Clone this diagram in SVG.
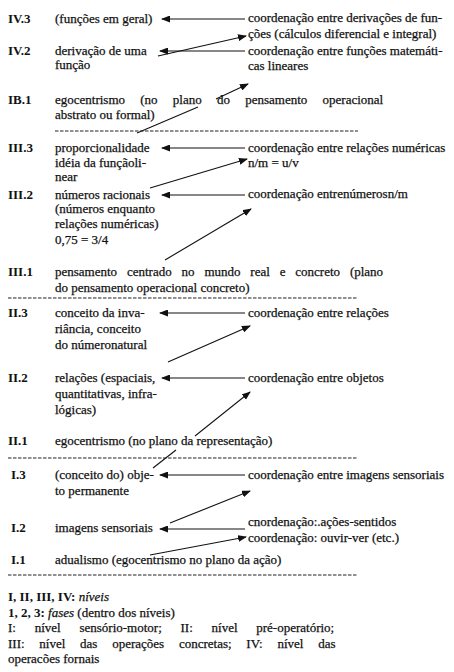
<svg xmlns="http://www.w3.org/2000/svg" width="454" height="672" viewBox="0 0 454 672">
<style>
text{font-family:"Liberation Serif","Times New Roman",serif;font-size:13px;fill:#111;stroke:#111;stroke-width:0.25}
.lb{font-weight:bold;stroke-width:0}
.it{font-style:italic}
.c line{stroke:#111;stroke-width:1.1}
.d{stroke:#222;stroke-width:1.2;stroke-dasharray:3.5 1.5}
</style>
<defs>
<marker id="ah" markerUnits="userSpaceOnUse" markerWidth="9" markerHeight="7" refX="8" refY="3.5" orient="auto">
<path d="M0,0 L9,3.5 L0,7 z" fill="#111"/>
</marker>
</defs>
<rect width="454" height="672" fill="#fff"/>

<g id="connectors" class="c">
<line x1="245" y1="19" x2="162" y2="19" marker-end="url(#ah)"/>
<line x1="158" y1="56" x2="246" y2="36" marker-end="url(#ah)"/>
<line x1="245" y1="51" x2="160" y2="51" marker-end="url(#ah)"/>
<line x1="137" y1="133" x2="198" y2="107"/>
<line x1="216" y1="99" x2="248" y2="84" marker-end="url(#ah)"/>
<line x1="245" y1="148" x2="162" y2="148" marker-end="url(#ah)"/>
<line x1="150" y1="188" x2="247" y2="159" marker-end="url(#ah)"/>
<line x1="245" y1="195" x2="162" y2="195" marker-end="url(#ah)"/>
<line x1="165" y1="260" x2="251" y2="209" marker-end="url(#ah)"/>
<line x1="245" y1="313" x2="160" y2="313" marker-end="url(#ah)"/>
<line x1="168" y1="362" x2="250" y2="326" marker-end="url(#ah)"/>
<line x1="245" y1="378" x2="162" y2="378" marker-end="url(#ah)"/>
<line x1="153" y1="468" x2="176" y2="450"/>
<line x1="195" y1="436" x2="250" y2="392" marker-end="url(#ah)"/>
<line x1="245" y1="475" x2="160" y2="475" marker-end="url(#ah)"/>
<line x1="170" y1="523" x2="250" y2="491" marker-end="url(#ah)"/>
<line x1="245" y1="529" x2="160" y2="529" marker-end="url(#ah)"/>
<line x1="150" y1="555" x2="246" y2="537" marker-end="url(#ah)"/>
</g>

<g id="separators">
<line class="d" x1="55" y1="131" x2="358" y2="131"/>
<line class="d" x1="8" y1="298" x2="358" y2="298"/>
<line class="d" x1="8" y1="458" x2="358" y2="458"/>
<line class="d" x1="8" y1="575" x2="358" y2="575"/>
</g>

<g id="IV3">
<text class="lb" x="8" y="23">IV.3</text>
<text x="55" y="23">(funções em geral)</text>
</g>
<g id="IV3-coord">
<text x="248" y="22">coordenação entre derivações de fun-</text>
<text x="248" y="38">ções (cálculos diferencial e integral)</text>
</g>
<g id="IV2">
<text class="lb" x="8" y="55">IV.2</text>
<text x="55" y="55">derivação de uma</text>
<text x="55" y="69">função</text>
</g>
<g id="IV2-coord">
<text x="248" y="55">coordenação entre funções matemáti-</text>
<text x="248" y="70">cas lineares</text>
</g>
<g id="IB1">
<text class="lb" x="8" y="104">IB.1</text>
<text x="55" y="104" word-spacing="12">egocentrismo (no plano do pensamento operacional</text>
<text x="55" y="119">abstrato ou formal)</text>
</g>
<g id="III3">
<text class="lb" x="8" y="152">III.3</text>
<text x="55" y="152">proporcionalidade</text>
<text x="55" y="167">idéia da funçãoli-</text>
<text x="55" y="181">near</text>
</g>
<g id="III3-coord">
<text x="248" y="152">coordenação entre relações numéricas</text>
<text x="248" y="167">n/m = u/v</text>
</g>
<g id="III2">
<text class="lb" x="8" y="199">III.2</text>
<text x="55" y="199">números racionais</text>
<text x="55" y="213">(números enquanto</text>
<text x="55" y="228">relações numéricas)</text>
<text x="55" y="244">0,75 = 3/4</text>
</g>
<g id="III2-coord">
<text x="248" y="198">coordenação entrenúmerosn/m</text>
</g>
<g id="III1">
<text class="lb" x="8" y="276">III.1</text>
<text x="55" y="276" word-spacing="6.6">pensamento centrado no mundo real e concreto (plano</text>
<text x="55" y="292">do pensamento operacional concreto)</text>
</g>
<g id="II3">
<text class="lb" x="8" y="317">II.3</text>
<text x="55" y="317">conceito da inva-</text>
<text x="55" y="333">riância, conceito</text>
<text x="55" y="349">do númeronatural</text>
</g>
<g id="II3-coord">
<text x="248" y="317">coordenação entre relações</text>
</g>
<g id="II2">
<text class="lb" x="8" y="382">II.2</text>
<text x="55" y="382">relações (espaciais,</text>
<text x="55" y="398">quantitativas, infra-</text>
<text x="55" y="414">lógicas)</text>
</g>
<g id="II2-coord">
<text x="248" y="382">coordenação entre objetos</text>
</g>
<g id="II1">
<text class="lb" x="8" y="445">II.1</text>
<text x="55" y="445">egocentrismo (no plano da representação)</text>
</g>
<g id="I3">
<text class="lb" x="11" y="479">I.3</text>
<text x="55" y="479">(conceito do) obje-</text>
<text x="55" y="495">to permanente</text>
</g>
<g id="I3-coord">
<text x="248" y="479">coordenação entre imagens sensoriais</text>
</g>
<g id="I2">
<text class="lb" x="11" y="532">I.2</text>
<text x="55" y="532">imagens sensoriais</text>
</g>
<g id="I2-coord">
<text x="248" y="526">cnordenação:.ações-sentidos</text>
<text x="248" y="542">coordenação: ouvir-ver (etc.)</text>
</g>
<g id="I1">
<text class="lb" x="11" y="564">I.1</text>
<text x="55" y="564">adualismo (egocentrismo no plano da ação)</text>
</g>

<g id="legend">
<text x="8" y="601"><tspan class="lb">I, II, III, IV:</tspan> <tspan class="it">níveis</tspan></text>
<text x="8" y="617"><tspan class="lb">1, 2, 3:</tspan> <tspan class="it">fases</tspan> (dentro dos níveis)</text>
<text x="8" y="632" word-spacing="15.5">I: nível sensório-motor; II: nível pré-operatório;</text>
<text x="8" y="648" word-spacing="11.5">III: nível das operações concretas; IV: nível das</text>
<text x="8" y="663">operacões fornais</text>
</g>
</svg>
